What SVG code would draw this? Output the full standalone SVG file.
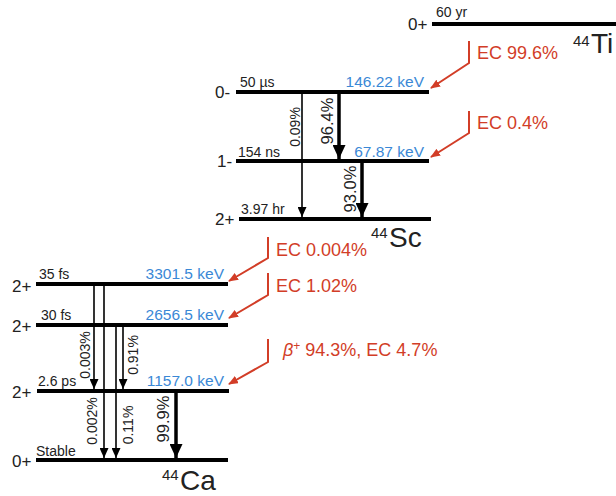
<svg xmlns="http://www.w3.org/2000/svg" width="616" height="496" viewBox="0 0 616 496">
<style>
text{font-family:"Liberation Sans",Arial,sans-serif;fill:#222}
.lvl{stroke:#000;stroke-width:4}
.jp{font-size:17px}
.hl{font-size:14px}
.en{font-size:15.5px;fill:#3a88d6;text-anchor:end}
.ec{font-size:18px;fill:#d23d27}
.red{stroke:#d23d27;stroke-width:2;fill:none}
.thin{stroke:#000;stroke-width:1.6}
.thick{stroke:#000;stroke-width:3.5}
.br{font-size:14px;text-anchor:middle}
.bb{font-size:16.5px;text-anchor:middle}
.nuc{font-size:28px}
.sup{font-size:15px}
</style>
<defs>
<marker id="ar" markerWidth="10" markerHeight="8" refX="9" refY="4" orient="auto" markerUnits="userSpaceOnUse"><path d="M0,0L10,4L0,8z" fill="#d23d27"/></marker>
<marker id="bt" markerWidth="10" markerHeight="9" refX="10" refY="4.5" orient="auto" markerUnits="userSpaceOnUse"><path d="M0,0L10,4.5L0,9z" fill="#000"/></marker>
<marker id="bk" markerWidth="14" markerHeight="13" refX="14" refY="6.5" orient="auto" markerUnits="userSpaceOnUse"><path d="M0,0L14,6.5L0,13z" fill="#000"/></marker>
</defs>

<g id="ti-0plus">
<line class="lvl" x1="432" y1="24" x2="616" y2="24"/>
<text class="jp" x="408" y="30">0+</text>
<text class="hl" x="436" y="17">60 yr</text>
<text x="573" y="46" class="sup">44</text><text x="591" y="53" class="nuc">Ti</text>
</g>

<g id="sc-0minus">
<line class="lvl" x1="236" y1="92" x2="429" y2="92"/>
<text class="jp" x="215" y="98">0-</text>
<text class="hl" x="240" y="87">50 µs</text>
<text class="en" x="424" y="87">146.22 keV</text>
</g>
<g id="sc-1minus">
<line class="lvl" x1="236" y1="161" x2="429" y2="161"/>
<text class="jp" x="217" y="167">1-</text>
<text class="hl" x="238" y="157">154 ns</text>
<text class="en" x="424" y="157">67.87 keV</text>
</g>
<g id="sc-2plus">
<line class="lvl" x1="239" y1="219" x2="431" y2="219"/>
<text class="jp" x="215" y="225">2+</text>
<text class="hl" x="241" y="214">3.97 hr</text>
<text x="371" y="238" class="sup">44</text><text x="389" y="247" class="nuc">Sc</text>
</g>

<g id="ca-3301">
<line class="lvl" x1="36" y1="284" x2="228" y2="284"/>
<text class="jp" x="12" y="292">2+</text>
<text class="hl" x="39" y="279">35 fs</text>
<text class="en" x="224" y="279">3301.5 keV</text>
</g>
<g id="ca-2656">
<line class="lvl" x1="36" y1="325" x2="228" y2="325"/>
<text class="jp" x="12" y="332">2+</text>
<text class="hl" x="41" y="320">30 fs</text>
<text class="en" x="224" y="320">2656.5 keV</text>
</g>
<g id="ca-1157">
<line class="lvl" x1="37" y1="391" x2="229" y2="391"/>
<text class="jp" x="12" y="398">2+</text>
<text class="hl" x="38" y="386">2.6 ps</text>
<text class="en" x="224" y="386">1157.0 keV</text>
</g>
<g id="ca-0plus">
<line class="lvl" x1="36" y1="460" x2="228" y2="460"/>
<text class="jp" x="12" y="467">0+</text>
<text class="hl" x="36" y="456">Stable</text>
<text x="162" y="480" class="sup">44</text><text x="180" y="490" class="nuc">Ca</text>
</g>

<g id="connectors">
<polyline class="red" points="469,41 469,63 431,88" marker-end="url(#ar)"/>
<polyline class="red" points="469,111 469,133 431,157" marker-end="url(#ar)"/>
<polyline class="red" points="268,237 268,258 229,281" marker-end="url(#ar)"/>
<polyline class="red" points="268,273 268,295 229,318" marker-end="url(#ar)"/>
<polyline class="red" points="268,339 268,362 229,384" marker-end="url(#ar)"/>
<line class="thin" x1="302" y1="92" x2="302" y2="217" marker-end="url(#bt)"/>
<line class="thick" x1="339" y1="92" x2="339" y2="159" marker-end="url(#bk)"/>
<line class="thick" x1="362" y1="161" x2="362" y2="217" marker-end="url(#bk)"/>
<line class="thin" x1="94" y1="284" x2="94" y2="389" marker-end="url(#bt)"/>
<line class="thin" x1="104" y1="284" x2="104" y2="458" marker-end="url(#bt)"/>
<line class="thin" x1="116" y1="325" x2="116" y2="458" marker-end="url(#bt)"/>
<line class="thin" x1="123" y1="325" x2="123" y2="389" marker-end="url(#bt)"/>
<line class="thick" x1="176" y1="391" x2="176" y2="458" marker-end="url(#bk)"/>
</g>

<g id="labels">
<text class="ec" x="477" y="59">EC 99.6%</text>
<text class="ec" x="477" y="129">EC 0.4%</text>
<text class="ec" x="276" y="256">EC 0.004%</text>
<text class="ec" x="276" y="292">EC 1.02%</text>
<text class="ec" x="283" y="356" font-size="19px"><tspan font-style="italic">β</tspan><tspan font-size="12px" dy="-6">+</tspan><tspan dy="6"> 94.3%, EC 4.7%</tspan></text>
<text class="br" transform="translate(299.5,127) rotate(-90)">0.09%</text>
<text class="bb" transform="translate(333,121) rotate(-90)">96.4%</text>
<text class="bb" transform="translate(356,189) rotate(-90)">93.0%</text>
<text class="br" transform="translate(90,355) rotate(-90)">0.003%</text>
<text class="br" transform="translate(97,421) rotate(-90)">0.002%</text>
<text class="br" transform="translate(138,355) rotate(-90)">0.91%</text>
<text class="br" transform="translate(133,425) rotate(-90)">0.11%</text>
<text class="bb" transform="translate(169,419) rotate(-90)">99.9%</text>
</g>
</svg>
